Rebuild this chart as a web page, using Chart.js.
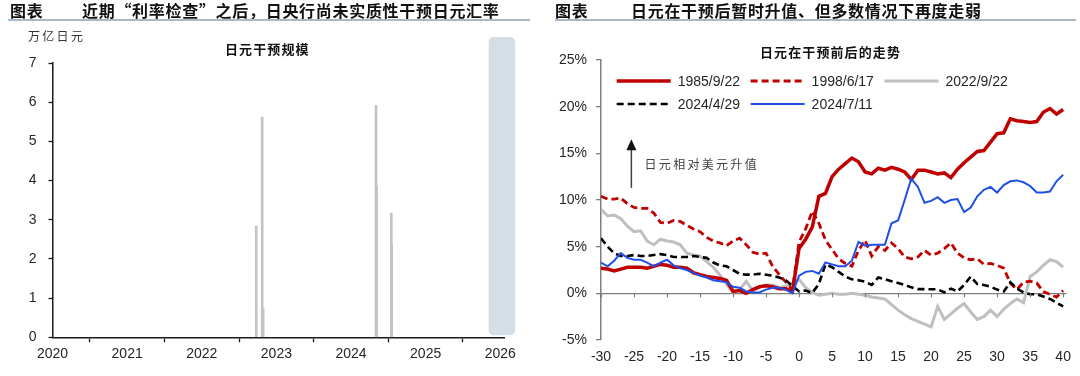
<!DOCTYPE html>
<html>
<head>
<meta charset="utf-8">
<script src="https://cdn.jsdelivr.net/npm/chart.js@4.4.1/dist/chart.umd.min.js"></script>
<style>
html, body { margin: 0; padding: 0; background: #fff; }
#page { position: relative; width: 1080px; height: 376px; overflow: hidden; font-family: "Noto Sans CJK SC", sans-serif; }
.pane { position: absolute; top: 0; width: 540px; height: 376px; }
.txt { position: absolute; white-space: nowrap; line-height: 1; }
.head { font-size: 16px; font-weight: bold; color: #111; letter-spacing: 0.7px; }
.rule { position: absolute; top: 19px; height: 2px; background: #A9B9CA; }
.sub { font-size: 13px; font-weight: bold; color: #111; letter-spacing: 1.1px; }
.unit { font-size: 12px; color: #333; letter-spacing: 2.3px; }
</style>
</head>
<body>
<div id="page">
    <div class="pane" style="left:0"><canvas id="interventionBars" width="540" height="376"></canvas></div>
    <div class="pane" style="left:540px"><canvas id="yenPathLines" width="540" height="376"></canvas></div>

    <div class="txt head" style="left:10px;top:2px">图表</div>
    <div class="txt head" style="left:82px;top:2px">近期“利率检查”之后，日央行尚未实质性干预日元汇率</div>
    <div class="rule" style="left:8px;width:522px"></div>
    <div class="txt unit" style="left:28px;top:30px">万亿日元</div>
    <div class="txt sub" style="left:225px;top:42px">日元干预规模</div>

    <div class="txt head" style="left:555px;top:2px">图表</div>
    <div class="txt head" style="left:631px;top:2px">日元在干预后暂时升值、但多数情况下再度走弱</div>
    <div class="rule" style="left:555px;width:521px"></div>
    <div class="txt sub" style="left:760px;top:45px">日元在干预前后的走势</div>
</div>

<script>
window.addEventListener("load", (event) => {

    //Left chart data - intervention size, trillion yen, at decimal year
    const interventionDates = [2022.73, 2022.81, 2022.823, 2024.335, 2024.342, 2024.54, 2024.545];
    const interventionSize = [2.84, 5.62, 0.73, 5.92, 3.87, 3.17, 2.37];
    const shadeFrom = 2025.845;
    const shadeTo = 2026.2;

    //Right chart data - yen vs usd, % move around the intervention day
    const days = Array.from({length: 71}, (_, i) => i - 30);
    const seriesNames = ['1985/9/22', '1998/6/17', '2022/9/22', '2024/4/29', '2024/7/11'];

    const yen1985 = [2.7, 2.6, 2.4, 2.6, 2.8, 2.8, 2.8, 2.7, 2.9, 3.1,
        3.0, 2.8, 2.8, 2.7, 2.2, 2.0, 1.8, 1.7, 1.6, 1.4,
        0.2, 0.3, 0.0, 0.4, 0.7, 0.8, 0.7, 0.5, 0.5, 0.2,
        4.8, 5.8, 7.1, 10.4, 10.7, 12.5, 13.3, 13.9, 14.5, 14.1,
        13.0, 12.8, 13.4, 13.2, 13.5, 13.3, 13.0, 12.2, 13.2, 13.2,
        13.0, 12.8, 12.9, 12.4, 13.3, 14.0, 14.6, 15.2, 15.3, 16.2,
        17.1, 17.2, 18.7, 18.5, 18.4, 18.3, 18.4, 19.4, 19.8, 19.2,
        19.7];

    const yen1998 = [10.4, 10.1, 10.1, 10.2, 9.6, 9.2, 9.1, 9.1, 8.6, 7.6,
        7.5, 7.8, 7.7, 7.3, 6.9, 6.6, 6.0, 5.6, 5.4, 5.1,
        5.6, 5.9, 5.2, 4.4, 4.2, 4.3, 2.9, 2.0, 1.2, 0.4,
        5.5, 6.9, 8.8, 7.5, 5.7, 4.7, 3.7, 3.2, 2.9, 4.6,
        5.7, 4.0, 5.0, 4.6, 5.4, 4.8, 3.9, 3.7, 3.9, 4.6,
        4.1, 4.3, 4.8, 5.4, 4.3, 3.8, 3.6, 3.7, 3.1, 3.2,
        3.0, 2.7, 1.1, 0.4, 1.2, 1.3, 1.1, 0.2, -0.1, -0.4,
        0.3];

    const yen2022 = [9.0, 8.3, 8.4, 8.0, 7.2, 6.6, 6.7, 5.6, 5.2, 5.8,
        5.6, 5.5, 5.2, 4.3, 4.1, 4.0, 3.4, 2.8, 2.0, 1.0,
        0.1, 0.4, 1.3, 0.3, 0.7, 0.9, 0.9, 0.6, 0.8, 1.1,
        1.5, 0.6, 0.1, -0.2, -0.1, 0.0, -0.1, -0.1, 0.0, -0.1,
        -0.2, -0.4, -0.5, -0.6, -1.2, -1.8, -2.3, -2.7, -3.0, -3.3,
        -3.6, -1.4, -2.8, -2.2, -1.6, -1.1, -2.0, -2.8, -2.5, -1.8,
        -2.5, -1.7, -1.1, -0.6, -1.0, 1.8, 2.3, 3.0, 3.6, 3.4,
        2.8];

    const yen2024Apr = [5.9, 5.0, 4.3, 4.0, 4.0, 4.1, 4.0, 4.0, 4.1, 4.2,
        4.1, 3.9, 3.9, 3.9, 4.0, 3.9, 3.8, 3.3, 3.0, 2.9,
        2.5, 2.1, 2.0, 2.0, 2.1, 2.0, 1.9, 1.7, 1.4, 0.8,
        0.2, 0.3, 0.05, 1.0, 3.1, 2.8, 2.3, 1.8, 1.5, 1.4,
        1.25, 0.9, 1.7, 1.5, 1.3, 1.1, 0.9, 0.64, 0.45, 0.45,
        0.43, 0.43, 0.1, 0.5, 0.2, 0.9, 1.8, 1.0, 0.9, 0.7,
        0.4, 0.2, 1.2, 0.5, 0.1, -0.1, -0.1, -0.35, -0.6, -1.0,
        -1.4];

    const yen2024Jul = [3.3, 2.9, 3.5, 4.3, 3.8, 3.6, 3.6, 3.3, 2.9, 3.3,
        3.6, 3.0, 2.7, 2.5, 2.2, 1.9, 1.7, 1.4, 1.3, 1.2,
        0.7, 0.6, 0.2, 0.1, 0.1, 0.4, 0.6, 0.6, 0.4, 0.0,
        1.9, 2.3, 2.4, 2.1, 3.3, 3.1, 2.9, 2.9, 3.5, 5.5,
        5.1, 5.2, 5.2, 5.2, 7.5, 7.8, 10.0, 12.3, 11.4, 9.7,
        9.9, 10.3, 9.7, 10.0, 10.1, 8.7, 9.2, 10.4, 11.1, 11.4,
        10.8, 11.6, 12.0, 12.1, 11.9, 11.5, 10.8, 10.8, 10.9, 12.0,
        12.7];

    const axisFont = {family: '"Liberation Sans", Arial, sans-serif', size: 14};
    const textColor = '#262626';

    //Shaded box marking the latest period
    const shadePlugin = {
        id: 'nowShade',
        beforeDatasetsDraw(chart) {
            const ctx = chart.ctx;
            const x = chart.scales.x;
            const left = x.getPixelForValue(shadeFrom);
            const right = x.getPixelForValue(shadeTo);
            ctx.save();
            ctx.fillStyle = '#D3DEE6';
            ctx.beginPath();
            ctx.roundRect(left, 37, right - left, chart.chartArea.bottom - 39, 5);
            ctx.fill();
            ctx.restore();
        }
    };

    const barsCtx = document.getElementById('interventionBars');
    new Chart(barsCtx, {
        type: 'bar',
        data: {
            datasets: [{
                label: '日元干预规模',
                data: interventionDates.map((d, i) => ({x: d, y: interventionSize[i]})),
                backgroundColor: '#C3C3C3',
                barThickness: 2,
                grouped: false
            }]
        },
        options: {
            responsive: false,
            animation: false,
            devicePixelRatio: 1,
            layout: {padding: {left: 0, right: 36, top: 63, bottom: 0}},
            plugins: {legend: {display: false}, tooltip: {enabled: false}},
            scales: {
                x: {
                    type: 'linear',
                    offset: false,
                    min: 2020,
                    max: 2026.05,
                    afterFit: (scale) => { scale.height = 38.7; },
                    border: {display: true, color: '#1a1a1a', width: 1.5},
                    grid: {drawOnChartArea: false, drawTicks: true, tickLength: 5, tickColor: '#1a1a1a', tickWidth: 1.3},
                    ticks: {stepSize: 1, includeBounds: false, color: textColor, font: axisFont, padding: 3, maxRotation: 0,
                        callback: (v) => String(v)}
                },
                y: {
                    min: 0,
                    max: 7,
                    afterFit: (scale) => { scale.width = 52.5; },
                    border: {display: true, color: '#1a1a1a', width: 1.5},
                    grid: {drawOnChartArea: false, drawTicks: true, tickLength: 4, tickColor: '#1a1a1a', tickWidth: 1.3},
                    ticks: {stepSize: 1, color: textColor, font: axisFont, padding: 12}
                }
            }
        },
        plugins: [shadePlugin]
    });

    //Zero-line ticks, arrow note and the legend inside the plot
    const extrasPlugin = {
        id: 'yenExtras',
        afterDatasetsDraw(chart) {
            const ctx = chart.ctx;
            const x = chart.scales.x;
            const y = chart.scales.y;
            const area = chart.chartArea;
            ctx.save();

            const y0 = y.getPixelForValue(0);
            ctx.strokeStyle = '#7F7F7F';
            ctx.lineWidth = 1.2;
            x.ticks.forEach((t) => {
                const px = Math.round(x.getPixelForValue(t.value)) + 0.5;
                ctx.beginPath();
                ctx.moveTo(px, y0);
                ctx.lineTo(px, y0 + 4);
                ctx.stroke();
            });

            //arrow: yen up vs usd
            const ax = x.getPixelForValue(-25.4);
            const aTop = y.getPixelForValue(16.5);
            const aBottom = y.getPixelForValue(11.3);
            ctx.strokeStyle = '#404040';
            ctx.lineWidth = 1.5;
            ctx.beginPath();
            ctx.moveTo(ax, aBottom);
            ctx.lineTo(ax, aTop + 8);
            ctx.stroke();
            ctx.fillStyle = '#111';
            ctx.beginPath();
            ctx.moveTo(ax, aTop);
            ctx.lineTo(ax - 5, aTop + 11);
            ctx.lineTo(ax + 5, aTop + 11);
            ctx.closePath();
            ctx.fill();

            ctx.font = '12px "Noto Sans CJK SC", sans-serif';
            ctx.letterSpacing = '2.3px';
            ctx.fillStyle = '#404040';
            ctx.textBaseline = 'middle';
            ctx.textAlign = 'left';
            ctx.fillText('日元相对美元升值', x.getPixelForValue(-23.4), y.getPixelForValue(13.85));
            ctx.letterSpacing = '0px';

            //legend
            const colX = [15.7, 149.6, 283.5];
            const rowY = [21, 44];
            const sample = 54;
            ctx.font = '14px "Liberation Sans", Arial, sans-serif';
            ctx.fillStyle = textColor;
            chart.data.datasets.forEach((ds, i) => {
                const lx = area.left + colX[i % 3];
                const ly = area.top + rowY[Math.floor(i / 3)];
                ctx.strokeStyle = ds.borderColor;
                ctx.lineWidth = ds.borderWidth;
                ctx.setLineDash(ds.borderDash || []);
                ctx.beginPath();
                ctx.moveTo(lx, ly);
                ctx.lineTo(lx + sample, ly);
                ctx.stroke();
                ctx.setLineDash([]);
                ctx.fillText(ds.label, lx + sample + 7, ly + 1);
            });
            ctx.restore();
        }
    };

    const points = (vals) => vals.map((v, i) => ({x: days[i], y: v}));

    const dataset1985 = {label: seriesNames[0], data: points(yen1985), borderColor: '#C00000', borderWidth: 3.5, order: 2};
    const dataset1998 = {label: seriesNames[1], data: points(yen1998), borderColor: '#C00000', borderWidth: 2.8, borderDash: [7, 4], order: 3};
    const dataset2022 = {label: seriesNames[2], data: points(yen2022), borderColor: '#BFBFBF', borderWidth: 3, order: 4};
    const dataset2024Apr = {label: seriesNames[3], data: points(yen2024Apr), borderColor: '#000000', borderWidth: 2.6, borderDash: [7, 4], order: 1};
    const dataset2024Jul = {label: seriesNames[4], data: points(yen2024Jul), borderColor: '#1F4FE6', borderWidth: 2, order: 0};

    const linesCtx = document.getElementById('yenPathLines');
    new Chart(linesCtx, {
        type: 'line',
        data: {
            datasets: [dataset1985, dataset1998, dataset2022, dataset2024Apr, dataset2024Jul]
        },
        options: {
            responsive: false,
            animation: false,
            devicePixelRatio: 1,
            elements: {point: {radius: 0}, line: {tension: 0, fill: false, borderCapStyle: 'butt'}},
            layout: {padding: {left: 0, right: 11, top: 60, bottom: 0}},
            plugins: {legend: {display: false}, tooltip: {enabled: false}},
            scales: {
                x: {
                    type: 'linear',
                    min: -30,
                    max: 40.5,
                    afterFit: (scale) => { scale.height = 36; },
                    border: {display: false},
                    grid: {display: false, drawTicks: false},
                    ticks: {stepSize: 5, includeBounds: false, color: textColor, font: axisFont, padding: 9, maxRotation: 0,
                        callback: (v) => String(v)}
                },
                y: {
                    min: -5,
                    max: 25,
                    afterFit: (scale) => { scale.width = 61; },
                    border: {display: true, color: '#7F7F7F', width: 1.5},
                    grid: {
                        drawTicks: true,
                        tickLength: 5,
                        tickColor: '#7F7F7F',
                        lineWidth: 1.3,
                        color: (c) => (c.tick && c.tick.value === 0 ? '#7F7F7F' : 'rgba(0,0,0,0)')
                    },
                    ticks: {stepSize: 5, color: textColor, font: axisFont, padding: 9,
                        callback: (v) => v + '%'}
                }
            }
        },
        plugins: [extrasPlugin]
    });

});
</script>
</body>
</html>
